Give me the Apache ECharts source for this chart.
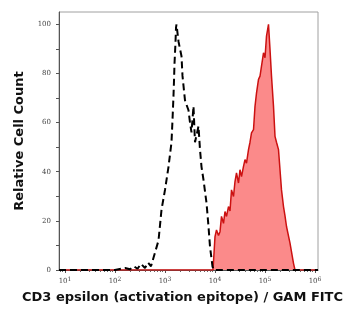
<!DOCTYPE html>
<html>
<head>
<meta charset="utf-8">
<script src="https://cdn.jsdelivr.net/npm/echarts@6/dist/echarts.min.js"></script>
<style>
  html, body { margin: 0; padding: 0; background: #fff; }
  #chart { width: 360px; height: 309px; }
</style>
</head>
<body>
<div id="chart"></div>
<script>
// x values are log10 of the fluorescence intensity
const xMin = 0.88;
const xMax = 6.06;
const decades = [1, 2, 3, 4, 5, 6];
const yLabels = [0, 20, 40, 60, 80, 100];

// isotype control (black dashed)
const controlX = [0.88, 2.0, 2.2, 2.3, 2.38, 2.45, 2.52, 2.6, 2.66, 2.72, 2.77, 2.87, 2.93, 3.0, 3.07, 3.13, 3.15, 3.17, 3.18, 3.19, 3.21, 3.22, 3.23, 3.27, 3.33, 3.35, 3.4, 3.47, 3.5, 3.53, 3.57, 3.6, 3.67, 3.7, 3.73, 3.77, 3.83, 3.87, 3.9, 3.95, 3.98, 6.06];
const controlY = [0, 0, 0.8, 0.3, 1.5, 0.5, 2.5, 0.8, 3, 1.5, 5, 12, 24.5, 32.6, 42, 52, 61, 71, 77, 84, 92.6, 98.6, 100, 93, 87, 79, 69, 65, 60, 56, 66.6, 52, 58.5, 49, 42, 36.7, 27.3, 17.7, 9.5, 1.4, 0, 0];

// stained sample (red filled)
const sampleX = [0.88, 3.96, 3.97, 4.0, 4.03, 4.07, 4.1, 4.13, 4.17, 4.2, 4.23, 4.27, 4.3, 4.33, 4.37, 4.4, 4.43, 4.47, 4.5, 4.53, 4.57, 4.6, 4.63, 4.67, 4.7, 4.73, 4.77, 4.8, 4.83, 4.87, 4.9, 4.93, 4.97, 5.0, 5.03, 5.07, 5.1, 5.13, 5.17, 5.2, 5.23, 5.27, 5.3, 5.33, 5.37, 5.4, 5.43, 5.5, 5.57, 5.6, 6.06];
const sampleY = [0, 0, 0.8, 13.6, 16.3, 14, 15.6, 21.8, 19, 23.8, 21.8, 25.8, 24, 32.6, 29.9, 36, 39.5, 35.4, 40.8, 38, 42.2, 44.9, 43.5, 49, 52, 55.8, 57.1, 66.6, 72, 77.6, 78.9, 83, 88.4, 86.4, 95.2, 100, 89.8, 78.9, 66.6, 54.4, 52, 49, 40.8, 32.6, 25.8, 22, 17.7, 10.9, 2.7, 0, 0];

const minorTicks = [];
decades.forEach(function (d) {
  for (let k = 2; k <= 9; k++) {
    const v = d - 1 + Math.log10(k);
    if (v > xMin && v < xMax) minorTicks.push(v);
  }
});

const chart = echarts.init(document.getElementById('chart'), null, { renderer: 'canvas' });

const option = {
  animation: false,
  grid: {
    left: 59, top: 12, right: 42, bottom: 39,
    show: true, borderColor: '#a0a0a0', borderWidth: 1
  },
  xAxis: [
    {
      type: 'value', min: xMin, max: xMax,
      name: 'CD3 epsilon (activation epitope) / GAM FITC',
      nameLocation: 'middle', nameGap: 21,
      nameTextStyle: { fontFamily: 'DejaVu Sans', fontWeight: 'bold', fontSize: 13, color: '#111', padding: [0, 12, 0, 0] },
      axisLine: { lineStyle: { color: '#555' } },
      splitLine: { show: false },
      axisTick: { customValues: decades, length: 3, lineStyle: { color: '#555' } },
      axisLabel: {
        customValues: decades, margin: 6,
        formatter: function (v) { return '{b|10}{s|' + Math.round(v) + '}'; },
        rich: {
          b: { fontFamily: 'DejaVu Serif', fontSize: 7, color: '#444' },
          s: { fontFamily: 'DejaVu Serif', fontSize: 6, color: '#444', verticalAlign: 'top', padding: [0, 0, 5, 0] }
        }
      }
    },
    {
      type: 'value', min: xMin, max: xMax, position: 'bottom', gridIndex: 0,
      axisLine: { show: false }, splitLine: { show: false },
      axisLabel: { show: false },
      axisTick: { show: true, customValues: minorTicks, length: 2, lineStyle: { color: '#666' } }
    }
  ],
  yAxis: {
    type: 'value', min: 0, max: 105,
    name: 'Relative Cell Count',
    nameLocation: 'middle', nameGap: 33,
    nameTextStyle: { fontFamily: 'DejaVu Sans', fontWeight: 'bold', fontSize: 13, color: '#111' },
    axisLine: { show: true, lineStyle: { color: '#555' } },
    splitLine: { show: false },
    axisTick: { show: true, customValues: [0, 10, 20, 30, 40, 50, 60, 70, 80, 90, 100], length: 3, lineStyle: { color: '#555' } },
    axisLabel: { customValues: yLabels, margin: 8, fontFamily: 'DejaVu Serif', fontSize: 7, color: '#444' }
  },
  series: [
    {
      type: 'line',
      data: sampleX.map(function (x, i) { return [x, sampleY[i]]; }),
      symbol: 'none',
      lineStyle: { color: '#cc1111', width: 1.5 },
      areaStyle: { color: '#fb8a8a', opacity: 1 },
      z: 2
    },
    {
      type: 'line',
      data: controlX.map(function (x, i) { return [x, controlY[i]]; }),
      symbol: 'none',
      lineStyle: { color: '#000', width: 2, type: [7, 4] },
      z: 3
    }
  ]
};

chart.setOption(option);
</script>
</body>
</html>
